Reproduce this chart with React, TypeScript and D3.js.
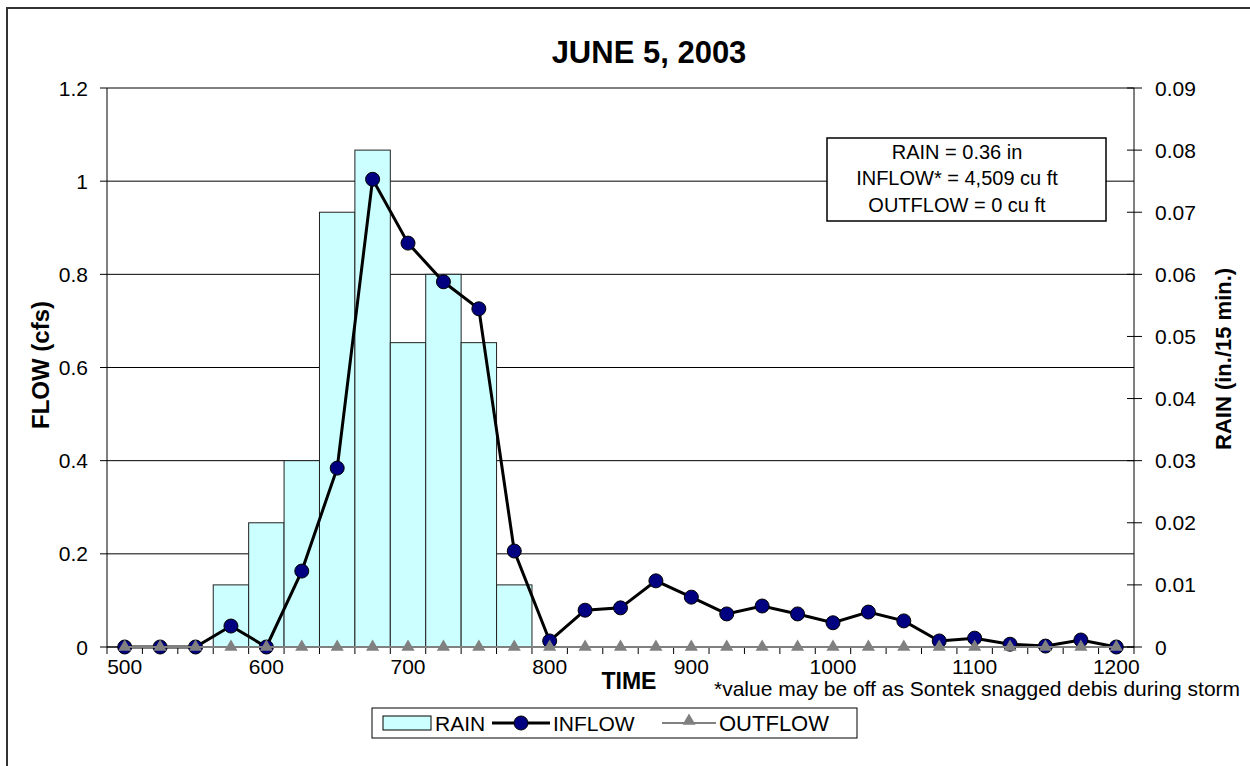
import React from "react";
import * as d3 from "d3";

const times = [500, 525, 550, 575, 600, 625, 650, 675, 700, 725, 750, 775, 800, 825, 850, 875, 900, 925, 950, 975, 1000, 1025, 1050, 1075, 1100, 1125, 1150, 1175, 1200];
const inflow = [0, 0, 0, 0.045, 0, 0.163, 0.384, 1.004, 0.867, 0.784, 0.726, 0.206, 0.013, 0.079, 0.084, 0.142, 0.107, 0.071, 0.088, 0.071, 0.052, 0.075, 0.056, 0.013, 0.019, 0.006, 0.002, 0.015, 0];
const outflow = [0, 0, 0, 0, 0, 0, 0, 0, 0, 0, 0, 0, 0, 0, 0, 0, 0, 0, 0, 0, 0, 0, 0, 0, 0, 0, 0, 0, 0];
const rainTimes = [575, 600, 625, 650, 675, 700, 725, 750, 775];
const rainValues = [0.01, 0.02, 0.03, 0.07, 0.08, 0.049, 0.06, 0.049, 0.01];
const xLabels = [500, 600, 700, 800, 900, 1000, 1100, 1200];
const leftTicks = [0, 0.2, 0.4, 0.6, 0.8, 1, 1.2];
const rightTicks = [0, 0.01, 0.02, 0.03, 0.04, 0.05, 0.06, 0.07, 0.08, 0.09];
const noteLines = ["RAIN = 0.36 in", "INFLOW* = 4,509 cu ft", "OUTFLOW = 0 cu ft"];

const FONT = "'Liberation Sans', Arial, sans-serif";

export default function App() {
  const L = 107, R = 1134, T = 88, B = 647;
  const x = d3.scaleBand<number>().domain(times).range([L, R]).padding(0);
  const yL = d3.scaleLinear().domain([0, 1.2]).range([B, T]);
  const yR = d3.scaleLinear().domain([0, 0.09]).range([B, T]);
  const cx = (t: number) => (x(t) as number) + x.bandwidth() / 2;

  const inflowLine = d3.line<number>().x((_, i) => cx(times[i])).y((v) => yL(v))(inflow) as string;
  const outflowLine = d3.line<number>().x((_, i) => cx(times[i])).y((v) => yL(v))(outflow) as string;
  const tri = d3.symbol().type(d3.symbolTriangle).size(75)() as string;

  const boundaries = times.map((t) => x(t) as number).concat([R]);

  const LY = 723; // legend centre line

  return (
    <svg width={1250} height={766} style={{ position: "absolute", left: 0, top: 0, fontFamily: FONT }}>
      <defs>
        <clipPath id="rclip">
          <rect x={1150} y={269} width={100} height={300} />
        </clipPath>
      </defs>
      <rect x={0} y={0} width={1250} height={766} fill="#fff" />
      <rect x={7} y={8} width={1400} height={900} fill="none" stroke="#333" strokeWidth={2} />

      <text x={649} y={63} textAnchor="middle" fontWeight="bold" fontSize={31}>JUNE 5, 2003</text>

      {/* gridlines */}
      {leftTicks.map((v) => (
        <line key={"g" + v} x1={L} x2={R} y1={yL(v)} y2={yL(v)} stroke="#000" strokeWidth={1} />
      ))}

      {/* rain bars */}
      {rainTimes.map((t, i) => (
        <rect key={"r" + t} x={x(t) as number} y={yR(rainValues[i])} width={x.bandwidth()} height={B - yR(rainValues[i])}
          fill="#CCFFFF" stroke="#222" strokeWidth={1} />
      ))}

      {/* axes */}
      <line x1={L} x2={L} y1={T} y2={B} stroke="#000" strokeWidth={1} />
      <line x1={R} x2={R} y1={T} y2={B} stroke="#000" strokeWidth={1} />
      <line x1={L} x2={R} y1={B} y2={B} stroke="#000" strokeWidth={1} />
      {leftTicks.map((v) => (
        <g key={"lt" + v}>
          <line x1={L - 7} x2={L} y1={yL(v)} y2={yL(v)} stroke="#000" />
          <text x={88} y={yL(v) + 7.5} textAnchor="end" fontSize={21}>{String(v)}</text>
        </g>
      ))}
      {rightTicks.map((v) => (
        <g key={"rt" + v}>
          <line x1={R - 7} x2={R + 8} y1={yR(v)} y2={yR(v)} stroke="#000" />
          <text x={1155} y={yR(v) + 7.5} textAnchor="start" fontSize={21}>{String(v)}</text>
        </g>
      ))}
      {boundaries.map((b, i) => (
        <line key={"xt" + i} x1={b} x2={b} y1={B} y2={B + 7} stroke="#000" />
      ))}
      {xLabels.map((t) => (
        <text key={"xl" + t} x={cx(t)} y={674} textAnchor="middle" fontSize={21}>{t}</text>
      ))}

      {/* inflow */}
      <path d={inflowLine} fill="none" stroke="#000" strokeWidth={3} />
      {inflow.map((v, i) => (
        <circle key={"i" + i} cx={cx(times[i])} cy={yL(v)} r={7} fill="#000080" stroke="#000" strokeWidth={1} />
      ))}

      {/* outflow */}
      <path d={outflowLine} fill="none" stroke="#808080" strokeWidth={2} />
      {outflow.map((v, i) => (
        <path key={"o" + i} d={tri} transform={`translate(${cx(times[i])},${yL(v)})`} fill="#808080" />
      ))}

      {/* axis titles */}
      <text transform={`translate(49,365) rotate(-90)`} textAnchor="middle" fontWeight="bold" fontSize={24}>FLOW (cfs)</text>
      <g clipPath="url(#rclip)">
        <text transform={`translate(1231,450) rotate(-90)`} textAnchor="start" fontWeight="bold" fontSize={22}>RAIN (in./15 min.)</text>
      </g>
      <text x={629} y={689} textAnchor="middle" fontWeight="bold" fontSize={23}>TIME</text>
      <text x={714} y={696} fontSize={21}>*value may be off as Sontek snagged debis during storm</text>

      {/* annotation box */}
      <rect x={827} y={138} width={279} height={83} fill="#fff" stroke="#000" strokeWidth={1.5} />
      {noteLines.map((s, i) => (
        <text key={"n" + i} x={957} y={158.5 + i * 26.5} textAnchor="middle" fontSize={20}>{s}</text>
      ))}

      {/* legend */}
      <rect x={372} y={LY - 15} width={485} height={30} fill="#fff" stroke="#000" strokeWidth={1} />
      <rect x={383} y={LY - 7} width={48} height={14} fill="#CCFFFF" stroke="#000" />
      <text x={435} y={LY + 7.5} fontSize={21}>RAIN</text>
      <line x1={492} x2={550} y1={LY} y2={LY} stroke="#000" strokeWidth={3} />
      <circle cx={521} cy={LY} r={7} fill="#000080" stroke="#000" />
      <text x={553} y={LY + 7.5} fontSize={21}>INFLOW</text>
      <line x1={662} x2={716} y1={LY} y2={LY} stroke="#808080" strokeWidth={2} />
      <path d={tri} transform={`translate(689,${LY - 2})`} fill="#808080" />
      <text x={719} y={LY + 7.5} fontSize={22}>OUTFLOW</text>
    </svg>
  );
}
